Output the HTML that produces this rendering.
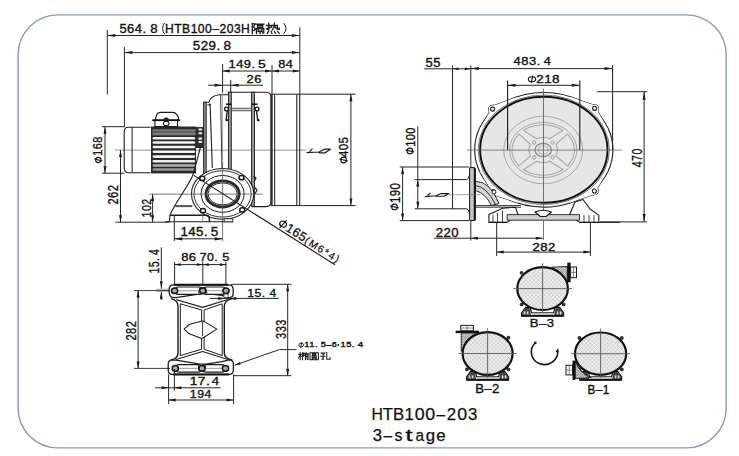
<!DOCTYPE html>
<html><head><meta charset="utf-8"><style>
html,body{margin:0;padding:0;background:#fff;overflow:hidden;}
svg{display:block;}
</style></head><body>
<svg width="739" height="456" viewBox="0 0 739 456">
<rect width="739" height="456" fill="#fff"/>
<rect x="18.1" y="14.85" width="708.1" height="433.05" rx="40" ry="40" fill="none" stroke="#8399c4" stroke-width="1.4"/>
<line x1="107.30" y1="30.00" x2="107.30" y2="94.50" stroke="#262626" stroke-width="1.0"/>
<line x1="299.80" y1="27.50" x2="299.80" y2="94.20" stroke="#262626" stroke-width="1.0"/>
<line x1="107.30" y1="35.50" x2="299.80" y2="35.50" stroke="#262626" stroke-width="1.0"/>
<path d="M107.30,35.50 L115.30,34.00 L115.30,37.00 Z" fill="#1a1a1a"/>
<path d="M299.80,35.50 L291.80,37.00 L291.80,34.00 Z" fill="#1a1a1a"/>
<text transform="translate(120.00,33.00) scale(1.061,1)" x="-0.49" y="0" font-size="12.18" font-family="'Liberation Sans',sans-serif" font-weight="normal" letter-spacing="0.424" fill="#111" stroke="#111" stroke-width="0.35" xml:space="preserve">564.</text>
<text transform="translate(150.80,33.00) scale(1.085,1)" x="-0.53" y="0" font-size="12.18" font-family="'Liberation Sans',sans-serif" font-weight="normal" letter-spacing="0.000" fill="#111" stroke="#111" stroke-width="0.35" xml:space="preserve">8</text>
<path d="M164.6,23.0 Q160.6,28.5 164.6,34.0" fill="none" stroke="#111" stroke-width="1.0" stroke-linejoin="round" />
<text transform="translate(166.00,33.00) scale(0.999,1)" x="-1.00" y="0" font-size="12.18" font-family="'Liberation Sans',sans-serif" font-weight="normal" letter-spacing="0.450" fill="#111" stroke="#111" stroke-width="0.35" xml:space="preserve">HTB100–203H</text>
<path d="M252.30,23.51 L252.30,33.60 M252.30,23.82 L255.16,23.82 L253.60,26.84 L255.42,28.92 L254.12,30.48 L253.08,30.27 M256.20,24.14 L264.00,24.14 M257.50,25.49 L262.70,25.49 L262.70,27.46 L257.50,27.46 L257.50,25.49 M256.46,33.60 L256.46,28.71 L263.74,28.71 L263.74,33.18 L262.70,33.18 M258.28,29.86 L259.32,31.10 M261.92,29.86 L260.88,31.10 M258.02,31.52 L262.18,31.52 M260.10,31.52 L260.10,33.60" fill="none" stroke="#1a1a1a" stroke-width="1.3" stroke-linecap="square" stroke-linejoin="miter"/>
<path d="M266.41,25.49 L271.48,25.49 M268.74,23.20 L268.74,29.96 L267.78,29.65 M266.41,28.71 L271.48,27.15 M271.89,25.49 L277.37,25.49 L277.37,29.23 L279.43,29.23 L279.43,28.19 M274.49,23.20 L274.22,26.32 L272.30,30.06 M275.04,27.15 L276.41,28.40 M267.37,33.39 L268.47,31.42 M271.21,31.42 L271.89,33.39 M274.49,31.42 L275.32,33.39 M277.64,31.42 L279.15,33.39" fill="none" stroke="#1a1a1a" stroke-width="1.3" stroke-linecap="square" stroke-linejoin="miter"/>
<path d="M283.6,23.2 Q288.6,28.5 283.6,33.8" fill="none" stroke="#111" stroke-width="1.0" stroke-linejoin="round" />
<line x1="124.40" y1="47.00" x2="124.40" y2="127.20" stroke="#262626" stroke-width="1.0"/>
<line x1="124.40" y1="52.60" x2="299.80" y2="52.60" stroke="#262626" stroke-width="1.0"/>
<path d="M124.40,52.60 L132.40,51.10 L132.40,54.10 Z" fill="#1a1a1a"/>
<path d="M299.80,52.60 L291.80,54.10 L291.80,51.10 Z" fill="#1a1a1a"/>
<text transform="translate(193.30,49.90) scale(1.048,1)" x="-0.51" y="0" font-size="12.75" font-family="'Liberation Sans',sans-serif" font-weight="normal" letter-spacing="0.429" fill="#111" stroke="#111" stroke-width="0.35" xml:space="preserve">529.</text>
<text transform="translate(224.10,49.90) scale(1.070,1)" x="-0.55" y="0" font-size="12.75" font-family="'Liberation Sans',sans-serif" font-weight="normal" letter-spacing="0.000" fill="#111" stroke="#111" stroke-width="0.35" xml:space="preserve">8</text>
<line x1="222.60" y1="64.00" x2="222.60" y2="92.50" stroke="#262626" stroke-width="1.0"/>
<line x1="272.00" y1="65.00" x2="272.00" y2="94.20" stroke="#262626" stroke-width="1.0"/>
<line x1="222.60" y1="71.00" x2="299.80" y2="71.00" stroke="#262626" stroke-width="1.0"/>
<path d="M222.60,71.00 L229.60,69.50 L229.60,72.50 Z" fill="#1a1a1a"/>
<path d="M272.00,71.00 L265.00,72.50 L265.00,69.50 Z" fill="#1a1a1a"/>
<path d="M272.00,71.00 L279.00,69.50 L279.00,72.50 Z" fill="#1a1a1a"/>
<path d="M299.80,71.00 L292.80,72.50 L292.80,69.50 Z" fill="#1a1a1a"/>
<text transform="translate(229.60,68.20) scale(1.185,1)" x="-0.83" y="0" font-size="10.89" font-family="'Liberation Sans',sans-serif" font-weight="normal" letter-spacing="0.380" fill="#111" stroke="#111" stroke-width="0.35" xml:space="preserve">149.</text>
<text transform="translate(258.50,68.20) scale(1.278,1)" x="-0.44" y="0" font-size="10.89" font-family="'Liberation Sans',sans-serif" font-weight="normal" letter-spacing="0.000" fill="#111" stroke="#111" stroke-width="0.35" xml:space="preserve">5</text>
<text transform="translate(278.80,68.20) scale(1.171,1)" x="-0.47" y="0" font-size="10.89" font-family="'Liberation Sans',sans-serif" font-weight="normal" letter-spacing="0.384" fill="#111" stroke="#111" stroke-width="0.35" xml:space="preserve">84</text>
<line x1="208.10" y1="85.20" x2="263.00" y2="85.20" stroke="#262626" stroke-width="1.0"/>
<path d="M222.60,85.20 L214.60,86.70 L214.60,83.70 Z" fill="#1a1a1a"/>
<path d="M230.70,85.20 L238.70,83.70 L238.70,86.70 Z" fill="#1a1a1a"/>
<line x1="230.70" y1="80.00" x2="230.70" y2="92.50" stroke="#262626" stroke-width="1.0"/>
<text transform="translate(247.20,83.00) scale(1.141,1)" x="-0.57" y="0" font-size="11.32" font-family="'Liberation Sans',sans-serif" font-weight="normal" letter-spacing="0.394" fill="#111" stroke="#111" stroke-width="0.35" xml:space="preserve">26</text>
<line x1="115.00" y1="150.10" x2="306.00" y2="150.10" stroke="#7a7a7a" stroke-width="0.8"/>
<path d="M150.5,127.2 L128.2,127.2 Q124.2,127.2 124.2,132.2 L124.2,167.6 Q124.2,172.7 128.2,172.7 L150.5,172.7" fill="none" stroke="#1c1c1c" stroke-width="1.1" stroke-linejoin="round" />
<line x1="132.10" y1="127.40" x2="132.10" y2="172.50" stroke="#1c1c1c" stroke-width="1.0"/>
<rect x="151" y="126.5" width="45" height="46.9" fill="#2a2a2a"/>
<rect x="152.5" y="129.3" width="43" height="6" fill="#7a7a7a"/>
<rect x="152.5" y="131.5" width="43" height="0.9" fill="#3a3a3a"/>
<rect x="152.6" y="136.90" width="42.6" height="2.6" rx="1.3" fill="#f4f4f4"/>
<rect x="152.6" y="141.20" width="42.6" height="2.6" rx="1.3" fill="#f4f4f4"/>
<rect x="152.6" y="145.70" width="42.6" height="2.6" rx="1.3" fill="#f4f4f4"/>
<rect x="152.6" y="150.50" width="42.6" height="2.6" rx="1.3" fill="#f4f4f4"/>
<rect x="152.6" y="155.30" width="42.6" height="2.6" rx="1.3" fill="#f4f4f4"/>
<rect x="152.6" y="160.00" width="42.6" height="2.6" rx="1.3" fill="#eeeeee"/>
<rect x="152.6" y="164.20" width="42.6" height="2.6" rx="1.3" fill="#b0b0b0"/>
<rect x="152.6" y="168.20" width="42.6" height="2.6" rx="1.3" fill="#9a9a9a"/>
<path d="M155,120.2 L156.8,114.6 Q157.8,112.3 160.2,112.3 L172.8,112.3 Q175.2,112.3 176.4,114.2 L178.4,117 L178.4,120.2" fill="#fff" stroke="#1c1c1c" stroke-width="1.2" stroke-linejoin="round" />
<rect x="154.9" y="120.2" width="22.7" height="6.4" fill="#fff" stroke="#1a1a1a" stroke-width="1.1"/>
<line x1="152.20" y1="120.20" x2="180.10" y2="120.20" stroke="#111" stroke-width="1.8"/>
<path d="M163.4,120.2 A2.8,2.8 0 0 1 169,120.2 Z" fill="#222"/>
<path d="M164.4,121.4 L168,121.4 L169.2,123.4 L168,125.6 L164.4,125.6 L163.2,123.4 Z" fill="#fff" stroke="#1a1a1a" stroke-width="1.1"/>
<rect x="196" y="127" width="8" height="21" fill="#2e2e2e"/>
<rect x="198.4" y="128.4" width="3.8" height="2.1" rx="0.8" fill="#eee"/>
<rect x="198.4" y="132.2" width="3.8" height="2.1" rx="0.8" fill="#eee"/>
<rect x="198.4" y="137.6" width="3.8" height="2.1" rx="0.8" fill="#eee"/>
<rect x="198.4" y="141.0" width="3.8" height="2.1" rx="0.8" fill="#eee"/>
<path d="M203.6,102.2 L209,102.2 Q210.5,96 219.3,94.8 L228.5,94.8 L228.5,92.2 L266,92.2 Q271.1,92.2 271.1,98 L271.1,201.5 Q271.1,206.6 266,206.6 L252,206.6" fill="none" stroke="#1c1c1c" stroke-width="1.1" stroke-linejoin="round" />
<rect x="203.6" y="102.2" width="2.6" height="74" fill="#8a8a8a" stroke="#1a1a1a" stroke-width="0.9"/>
<line x1="210.10" y1="103.50" x2="212.30" y2="168.00" stroke="#1c1c1c" stroke-width="1.1"/>
<line x1="220.60" y1="95.00" x2="222.00" y2="172.00" stroke="#1c1c1c" stroke-width="0.9"/>
<line x1="222.60" y1="92.50" x2="222.60" y2="160.00" stroke="#888" stroke-width="0.7"/>
<path d="M207.4,104.9 L211,104.9" fill="none" stroke="#1c1c1c" stroke-width="1.1" stroke-linejoin="round" />
<rect x="228.5" y="92.2" width="2.8" height="114.4" fill="#9a9a9a" stroke="#1a1a1a" stroke-width="0.9"/>
<rect x="251.6" y="92.2" width="2.8" height="114.4" fill="#9a9a9a" stroke="#1a1a1a" stroke-width="0.9"/>
<line x1="225.90" y1="104.20" x2="231.20" y2="104.20" stroke="#111" stroke-width="1.5"/>
<circle cx="226.5" cy="109.0" r="1.9" fill="#fff" stroke="#111" stroke-width="1.3"/>
<line x1="227.20" y1="111.20" x2="226.20" y2="119.60" stroke="#111" stroke-width="1.3"/>
<ellipse cx="226.8" cy="120.2" rx="1.4" ry="1.1" fill="#111"/>
<line x1="251.60" y1="104.20" x2="257.60" y2="104.20" stroke="#111" stroke-width="1.5"/>
<circle cx="257.0" cy="109.0" r="1.9" fill="#fff" stroke="#111" stroke-width="1.3"/>
<line x1="256.60" y1="111.20" x2="257.60" y2="119.60" stroke="#111" stroke-width="1.3"/>
<ellipse cx="258.2" cy="120.2" rx="1.4" ry="1.1" fill="#111"/>
<rect x="231.3" y="108.2" width="20.3" height="2.6" fill="#d8d8d8" stroke="#333" stroke-width="0.8"/>
<line x1="271.10" y1="94.20" x2="355.50" y2="94.20" stroke="#1c1c1c" stroke-width="1.0"/>
<line x1="271.10" y1="205.60" x2="355.50" y2="205.60" stroke="#1c1c1c" stroke-width="1.0"/>
<rect x="270.4" y="94.2" width="2.3" height="111.4" fill="#333"/>
<line x1="274.70" y1="94.20" x2="274.70" y2="205.60" stroke="#1c1c1c" stroke-width="1.0"/>
<line x1="296.80" y1="94.20" x2="296.80" y2="205.60" stroke="#1c1c1c" stroke-width="1.1"/>
<line x1="299.70" y1="94.20" x2="299.70" y2="205.60" stroke="#1c1c1c" stroke-width="1.1"/>
<line x1="350.90" y1="94.20" x2="350.90" y2="205.60" stroke="#262626" stroke-width="1.0"/>
<path d="M350.90,94.20 L352.40,101.20 L349.40,101.20 Z" fill="#1a1a1a"/>
<path d="M350.90,205.60 L349.40,198.60 L352.40,198.60 Z" fill="#1a1a1a"/>
<text transform="translate(348.20,156.80) rotate(-90) scale(0.871,1)" x="-0.30" y="0" font-size="13.18" font-family="'Liberation Sans',sans-serif" font-weight="normal" letter-spacing="0.517" fill="#111" stroke="#111" stroke-width="0.35" xml:space="preserve">405</text>
<ellipse cx="343.60" cy="160.00" rx="2.77" ry="2.90" fill="none" stroke="#111" stroke-width="1.1"/>
<line x1="339.40" y1="158.99" x2="347.80" y2="161.01" stroke="#111" stroke-width="1.1"/>
<path d="M306.5,152.6 L319,152 L324.6,149.2 L330.3,149.2 L325.2,152.8 L319,152.8 M309.5,151.6 L312.5,148.6" fill="none" stroke="#1c1c1c" stroke-width="1.2" stroke-linejoin="round" />
<ellipse cx="222.6" cy="193.9" rx="31.1" ry="25.4" fill="#fff" stroke="#1c1c1c" stroke-width="1.1"/>
<ellipse cx="222.6" cy="193.9" rx="28.6" ry="23.2" fill="none" stroke="#1c1c1c" stroke-width="0.9"/>
<ellipse cx="222.6" cy="193.9" rx="21.5" ry="18.4" fill="none" stroke="#1c1c1c" stroke-width="1.0"/>
<ellipse cx="222.6" cy="193.9" rx="16.6" ry="13.1" fill="none" stroke="#2a2a2a" stroke-width="2.8"/>
<ellipse cx="222.6" cy="193.9" rx="14.6" ry="11.0" fill="none" stroke="#1c1c1c" stroke-width="0.9"/>
<ellipse cx="202.3" cy="178.4" rx="2.5" ry="2.1" fill="#fff" stroke="#1a1a1a" stroke-width="1.5"/>
<ellipse cx="241.5" cy="177.7" rx="2.5" ry="2.1" fill="#fff" stroke="#1a1a1a" stroke-width="1.5"/>
<ellipse cx="203" cy="210.7" rx="2.5" ry="2.1" fill="#fff" stroke="#1a1a1a" stroke-width="1.5"/>
<ellipse cx="242.2" cy="209.9" rx="2.5" ry="2.1" fill="#fff" stroke="#1a1a1a" stroke-width="1.5"/>
<path d="M253.5,176 L256,178 L254,182 M254,187 L257,190 L255,194" fill="none" stroke="#1c1c1c" stroke-width="1.1" stroke-linejoin="round" />
<line x1="222.60" y1="162.00" x2="222.60" y2="241.00" stroke="#555" stroke-width="0.8"/>
<line x1="149.00" y1="194.10" x2="262.70" y2="194.10" stroke="#555" stroke-width="0.8"/>
<path d="M200.5,147 C197.5,158 195.5,167 192.5,176 C187,188 175,203 169.9,215.3 L169.4,221.8" fill="none" stroke="#1c1c1c" stroke-width="1.1" stroke-linejoin="round" />
<line x1="165.00" y1="221.80" x2="233.00" y2="221.80" stroke="#1c1c1c" stroke-width="1.1"/>
<path d="M170,215.3 L206,215.3 Q209.4,215.3 209.4,219 L209.4,221.8" fill="none" stroke="#1c1c1c" stroke-width="1.5" stroke-linejoin="round" />
<line x1="173.80" y1="206.10" x2="192.40" y2="206.10" stroke="#555" stroke-width="2.0"/>
<line x1="202.80" y1="215.30" x2="202.80" y2="221.80" stroke="#777" stroke-width="0.8"/>
<rect x="224.2" y="218.8" width="8.6" height="3" fill="#fff" stroke="#222" stroke-width="0.9"/>
<line x1="193.80" y1="175.40" x2="335.00" y2="264.80" stroke="#1c1c1c" stroke-width="1.1"/>
<g transform="translate(277.2,225.6) rotate(31.8)"><text x="9.0" y="0" font-size="12.6" font-family="'Liberation Sans',sans-serif" letter-spacing="0.5" fill="#111" stroke="#111" stroke-width="0.3">165</text><text x="31.5" y="0.4" font-size="10.4" font-family="'Liberation Sans',sans-serif" letter-spacing="1.5" fill="#111" stroke="#111" stroke-width="0.2">(M6*4)</text></g>
<g transform="translate(277.2,225.6) rotate(31.8)"><ellipse cx="4.2" cy="-4.4" rx="3.4" ry="2.9" fill="none" stroke="#111" stroke-width="1.2"/><line x1="5.2" y1="-9.4" x2="3.2" y2="0.6" stroke="#111" stroke-width="1.2"/></g>
<line x1="102.00" y1="126.70" x2="124.20" y2="126.70" stroke="#262626" stroke-width="1.0"/>
<line x1="102.00" y1="173.20" x2="124.20" y2="173.20" stroke="#262626" stroke-width="1.0"/>
<line x1="105.00" y1="126.70" x2="105.00" y2="173.20" stroke="#262626" stroke-width="1.0"/>
<path d="M105.00,126.70 L106.50,133.70 L103.50,133.70 Z" fill="#1a1a1a"/>
<path d="M105.00,173.20 L103.50,166.20 L106.50,166.20 Z" fill="#1a1a1a"/>
<text transform="translate(102.30,154.90) rotate(-90) scale(0.875,1)" x="-0.95" y="0" font-size="12.46" font-family="'Liberation Sans',sans-serif" font-weight="normal" letter-spacing="0.514" fill="#111" stroke="#111" stroke-width="0.35" xml:space="preserve">168</text>
<ellipse cx="98.30" cy="160.00" rx="2.64" ry="2.60" fill="none" stroke="#111" stroke-width="1.1"/>
<line x1="94.30" y1="159.04" x2="102.30" y2="160.96" stroke="#111" stroke-width="1.1"/>
<line x1="115.50" y1="222.20" x2="169.40" y2="222.20" stroke="#262626" stroke-width="1.0"/>
<line x1="120.50" y1="150.10" x2="120.50" y2="222.20" stroke="#262626" stroke-width="1.0"/>
<path d="M120.50,150.10 L122.00,157.10 L119.00,157.10 Z" fill="#1a1a1a"/>
<path d="M120.50,222.20 L119.00,215.20 L122.00,215.20 Z" fill="#1a1a1a"/>
<text transform="translate(118.00,204.00) rotate(-90) scale(0.775,1)" x="-0.72" y="0" font-size="14.33" font-family="'Liberation Sans',sans-serif" font-weight="normal" letter-spacing="0.581" fill="#111" stroke="#111" stroke-width="0.35" xml:space="preserve">262</text>
<line x1="152.60" y1="194.10" x2="152.60" y2="222.20" stroke="#262626" stroke-width="1.0"/>
<path d="M152.60,194.10 L154.10,201.10 L151.10,201.10 Z" fill="#1a1a1a"/>
<path d="M152.60,222.20 L151.10,215.20 L154.10,215.20 Z" fill="#1a1a1a"/>
<text transform="translate(150.50,216.60) rotate(-90) scale(0.777,1)" x="-1.04" y="0" font-size="13.61" font-family="'Liberation Sans',sans-serif" font-weight="normal" letter-spacing="0.579" fill="#111" stroke="#111" stroke-width="0.35" xml:space="preserve">102</text>
<line x1="174.30" y1="216.00" x2="174.30" y2="241.00" stroke="#262626" stroke-width="1.0"/>
<line x1="174.30" y1="238.80" x2="222.60" y2="238.80" stroke="#262626" stroke-width="1.0"/>
<path d="M174.30,238.80 L182.30,237.20 L182.30,240.40 Z" fill="#1a1a1a"/>
<path d="M222.60,238.80 L214.60,240.40 L214.60,237.20 Z" fill="#1a1a1a"/>
<text transform="translate(181.40,235.50) scale(1.071,1)" x="-0.95" y="0" font-size="12.46" font-family="'Liberation Sans',sans-serif" font-weight="normal" letter-spacing="0.420" fill="#111" stroke="#111" stroke-width="0.35" xml:space="preserve">145.</text>
<text transform="translate(211.20,235.50) scale(1.083,1)" x="-0.50" y="0" font-size="12.46" font-family="'Liberation Sans',sans-serif" font-weight="normal" letter-spacing="0.000" fill="#111" stroke="#111" stroke-width="0.35" xml:space="preserve">5</text>
<line x1="161.30" y1="247.40" x2="161.30" y2="300.00" stroke="#262626" stroke-width="1.0"/>
<path d="M161.30,287.80 L159.80,281.30 L162.80,281.30 Z" fill="#1a1a1a"/>
<path d="M161.30,292.20 L162.80,298.70 L159.80,298.70 Z" fill="#1a1a1a"/>
<rect x="156" y="288.6" width="13.5" height="3.3" fill="#bdbdbd"/>
<text transform="translate(158.70,272.70) rotate(-90) scale(0.761,1)" x="-1.05" y="0" font-size="13.75" font-family="'Liberation Sans',sans-serif" font-weight="normal" letter-spacing="0.591" fill="#111" stroke="#111" stroke-width="0.35" xml:space="preserve">15.</text>
<text transform="translate(158.70,254.80) rotate(-90) scale(0.750,1)" x="-0.32" y="0" font-size="13.75" font-family="'Liberation Sans',sans-serif" font-weight="normal" letter-spacing="0.000" fill="#111" stroke="#111" stroke-width="0.35" xml:space="preserve">4</text>
<line x1="174.60" y1="262.00" x2="174.60" y2="291.00" stroke="#262626" stroke-width="1.0"/>
<line x1="202.80" y1="262.00" x2="202.80" y2="291.00" stroke="#262626" stroke-width="1.0"/>
<line x1="225.90" y1="262.00" x2="225.90" y2="291.00" stroke="#262626" stroke-width="1.0"/>
<line x1="174.00" y1="264.60" x2="226.50" y2="264.60" stroke="#262626" stroke-width="1.0"/>
<path d="M174.60,264.60 L180.60,263.20 L180.60,266.00 Z" fill="#1a1a1a"/>
<path d="M202.80,264.60 L196.80,266.00 L196.80,263.20 Z" fill="#1a1a1a"/>
<path d="M202.80,264.60 L208.80,263.20 L208.80,266.00 Z" fill="#1a1a1a"/>
<path d="M225.90,264.60 L219.90,266.00 L219.90,263.20 Z" fill="#1a1a1a"/>
<text transform="translate(181.70,261.40) scale(1.181,1)" x="-0.48" y="0" font-size="11.03" font-family="'Liberation Sans',sans-serif" font-weight="normal" letter-spacing="0.381" fill="#111" stroke="#111" stroke-width="0.35" xml:space="preserve">86</text>
<text transform="translate(200.40,261.40) scale(1.112,1)" x="-0.57" y="0" font-size="11.03" font-family="'Liberation Sans',sans-serif" font-weight="normal" letter-spacing="0.405" fill="#111" stroke="#111" stroke-width="0.35" xml:space="preserve">70.</text>
<text transform="translate(222.70,261.40) scale(1.166,1)" x="-0.44" y="0" font-size="11.03" font-family="'Liberation Sans',sans-serif" font-weight="normal" letter-spacing="0.000" fill="#111" stroke="#111" stroke-width="0.35" xml:space="preserve">5</text>
<path d="M173.5,284.8 L228.5,284.8 Q233.2,284.8 233.2,289.5 L233.2,293.5 Q233.2,297.6 229,297.8 L221.7,295.3 L206.5,293.4 L200,293.8 L176,297.6 Q169.2,298.5 169.2,292.5 L169.2,289.5 Q169.2,284.8 173.5,284.8 Z" fill="#fff" stroke="#1c1c1c" stroke-width="1.3" stroke-linejoin="round" />
<line x1="174.00" y1="284.80" x2="228.00" y2="284.80" stroke="#111" stroke-width="2.0"/>
<rect x="174.6" y="287.0" width="28.1" height="7.4" rx="3.6" fill="#fff" stroke="#1a1a1a" stroke-width="1.1"/>
<rect x="202.7" y="287.0" width="23.3" height="7.4" rx="3.6" fill="#fff" stroke="#1a1a1a" stroke-width="1.1"/>
<line x1="178.00" y1="290.70" x2="199.00" y2="290.70" stroke="#aaa" stroke-width="1.2"/>
<line x1="206.00" y1="290.70" x2="222.50" y2="290.70" stroke="#aaa" stroke-width="1.2"/>
<ellipse cx="174.6" cy="290.7" rx="3.1" ry="2.8" fill="#aaa" stroke="#111" stroke-width="1.5"/>
<ellipse cx="202.7" cy="290.7" rx="3.1" ry="2.8" fill="#aaa" stroke="#111" stroke-width="1.5"/>
<ellipse cx="226.0" cy="290.7" rx="3.1" ry="2.8" fill="#aaa" stroke="#111" stroke-width="1.5"/>
<path d="M198.5,293.6 L200,287.5 L205.4,287.5 L207,293.6" fill="none" stroke="#1c1c1c" stroke-width="1.0" stroke-linejoin="round" />
<rect x="224" y="294" width="4" height="3.5" fill="#fff" stroke="#333" stroke-width="0.8"/>
<path d="M172.2,359.8 L176,360.2 L200,364.2 L206,364.2 L222,361.6 L229,359.8 Q233.4,359.8 233.4,364 L233.4,369.8 Q233.4,374.4 229,374.4 L172.2,374.4 Q168.2,374.4 168.2,369.8 L168.2,364 Q168.2,359.8 172.2,359.8 Z" fill="#fff" stroke="#1c1c1c" stroke-width="1.3" stroke-linejoin="round" />
<line x1="173.00" y1="374.40" x2="229.00" y2="374.40" stroke="#111" stroke-width="2.0"/>
<rect x="175.3" y="364.6" width="26.6" height="7.6" rx="3.7" fill="#fff" stroke="#1a1a1a" stroke-width="1.2"/>
<rect x="201.9" y="364.6" width="23.6" height="7.6" rx="3.7" fill="#fff" stroke="#1a1a1a" stroke-width="1.2"/>
<line x1="179.00" y1="368.40" x2="198.00" y2="368.40" stroke="#aaa" stroke-width="1.2"/>
<line x1="205.50" y1="368.40" x2="222.00" y2="368.40" stroke="#aaa" stroke-width="1.2"/>
<ellipse cx="175.3" cy="368.4" rx="3.1" ry="2.8" fill="#aaa" stroke="#111" stroke-width="1.5"/>
<ellipse cx="201.9" cy="368.4" rx="3.1" ry="2.8" fill="#aaa" stroke="#111" stroke-width="1.5"/>
<ellipse cx="225.5" cy="368.4" rx="3.1" ry="2.8" fill="#aaa" stroke="#111" stroke-width="1.5"/>
<path d="M198,364.5 L199.5,371 L204.5,371 L206,364.5" fill="none" stroke="#1c1c1c" stroke-width="1.0" stroke-linejoin="round" />
<path d="M171.1,298.6 Q178,300.5 178,306 L178,353 Q178,358.5 171.1,360.0" fill="none" stroke="#1c1c1c" stroke-width="1.4" stroke-linejoin="round" />
<path d="M232.3,298.6 Q224.3,300.5 224.3,306 L224.3,353 Q224.3,358.5 232.3,360.0" fill="none" stroke="#1c1c1c" stroke-width="1.4" stroke-linejoin="round" />
<path d="M176,299.5 L202.6,307.4 L228,299.5" fill="none" stroke="#1c1c1c" stroke-width="1.1" stroke-linejoin="round" />
<path d="M176,359.5 L202.6,351.5 L228,359.5" fill="none" stroke="#1c1c1c" stroke-width="1.1" stroke-linejoin="round" />
<path d="M180.3,303.8 L180.3,355.6 M222.2,303.8 L222.2,355.6" fill="none" stroke="#1c1c1c" stroke-width="1.0" stroke-linejoin="round" />
<path d="M180.3,303.8 L201.6,310 L201.6,349.2 L180.3,355.6" fill="none" stroke="#1c1c1c" stroke-width="1.0" stroke-linejoin="round" />
<path d="M222.2,303.8 L204.1,310 L204.1,349.2 L222.2,355.6" fill="none" stroke="#1c1c1c" stroke-width="1.0" stroke-linejoin="round" />
<path d="M184.1,329.1 L189.2,324.5 L201.8,321 L204,321.4 L216.8,329.1 L204,337.2 L201.8,338.4 L189.2,333.8 Z" fill="#fff" stroke="#1c1c1c" stroke-width="1.1" stroke-linejoin="round" />
<line x1="202.60" y1="322.00" x2="202.60" y2="336.00" stroke="#1c1c1c" stroke-width="0.9"/>
<line x1="134.00" y1="290.60" x2="170.00" y2="290.60" stroke="#262626" stroke-width="0.9"/>
<line x1="134.00" y1="368.40" x2="170.00" y2="368.40" stroke="#262626" stroke-width="0.9"/>
<line x1="138.10" y1="290.60" x2="138.10" y2="368.40" stroke="#262626" stroke-width="1.0"/>
<path d="M138.10,290.60 L139.60,297.60 L136.60,297.60 Z" fill="#1a1a1a"/>
<path d="M138.10,368.40 L136.60,361.40 L139.60,361.40 Z" fill="#1a1a1a"/>
<text transform="translate(135.70,340.00) rotate(-90) scale(0.759,1)" x="-0.73" y="0" font-size="14.61" font-family="'Liberation Sans',sans-serif" font-weight="normal" letter-spacing="0.593" fill="#111" stroke="#111" stroke-width="0.35" xml:space="preserve">282</text>
<line x1="209.90" y1="298.40" x2="278.60" y2="298.40" stroke="#262626" stroke-width="1.0"/>
<path d="M225.20,298.40 L218.20,299.90 L218.20,296.90 Z" fill="#1a1a1a"/>
<path d="M229.40,298.40 L236.40,296.90 L236.40,299.90 Z" fill="#1a1a1a"/>
<text transform="translate(248.10,296.50) scale(1.057,1)" x="-0.88" y="0" font-size="11.60" font-family="'Liberation Sans',sans-serif" font-weight="normal" letter-spacing="0.426" fill="#111" stroke="#111" stroke-width="0.35" xml:space="preserve">15.</text>
<text transform="translate(269.80,296.50) scale(1.043,1)" x="-0.27" y="0" font-size="11.60" font-family="'Liberation Sans',sans-serif" font-weight="normal" letter-spacing="0.000" fill="#111" stroke="#111" stroke-width="0.35" xml:space="preserve">4</text>
<line x1="231.00" y1="284.30" x2="291.30" y2="284.30" stroke="#262626" stroke-width="1.0"/>
<line x1="233.40" y1="375.70" x2="291.30" y2="375.70" stroke="#262626" stroke-width="1.0"/>
<line x1="287.70" y1="284.30" x2="287.70" y2="375.70" stroke="#262626" stroke-width="1.0"/>
<path d="M287.70,284.30 L289.20,291.30 L286.20,291.30 Z" fill="#1a1a1a"/>
<path d="M287.70,375.70 L286.20,368.70 L289.20,368.70 Z" fill="#1a1a1a"/>
<text transform="translate(285.80,338.50) rotate(-90) scale(0.743,1)" x="-0.56" y="0" font-size="14.76" font-family="'Liberation Sans',sans-serif" font-weight="normal" letter-spacing="0.605" fill="#111" stroke="#111" stroke-width="0.35" xml:space="preserve">333</text>
<path d="M234.6,365.2 L279.3,349.6 L296.5,349.6" fill="none" stroke="#262626" stroke-width="1.0" stroke-linejoin="round" />
<path d="M234.60,365.20 L239.80,361.90 L240.73,364.54 Z" fill="#1a1a1a"/>
<ellipse cx="301.20" cy="345.00" rx="2.30" ry="1.85" fill="none" stroke="#111" stroke-width="0.9"/>
<line x1="301.87" y1="342.20" x2="300.53" y2="347.80" stroke="#111" stroke-width="0.9"/>
<text transform="translate(304.90,347.30) scale(1.284,1)" x="-0.57" y="0" font-size="7.45" font-family="'Liberation Sans',sans-serif" font-weight="normal" letter-spacing="0.350" fill="#111" stroke="#111" stroke-width="0.35" xml:space="preserve">11.</text>
<text transform="translate(321.20,347.30) scale(1.220,1)" x="-0.30" y="0" font-size="7.45" font-family="'Liberation Sans',sans-serif" font-weight="normal" letter-spacing="0.369" fill="#111" stroke="#111" stroke-width="0.35" xml:space="preserve">5–6</text>
<circle cx="338.4" cy="345" r="0.9" fill="#111"/>
<text transform="translate(341.30,347.30) scale(1.252,1)" x="-0.57" y="0" font-size="7.45" font-family="'Liberation Sans',sans-serif" font-weight="normal" letter-spacing="0.360" fill="#111" stroke="#111" stroke-width="0.35" xml:space="preserve">15.</text>
<text transform="translate(357.80,347.30) scale(1.400,1)" x="-0.17" y="0" font-size="7.45" font-family="'Liberation Sans',sans-serif" font-weight="normal" letter-spacing="0.000" fill="#111" stroke="#111" stroke-width="0.35" xml:space="preserve">4</text>
<path d="M298.60,354.30 L301.74,354.30 M300.17,352.40 L300.17,359.70 M300.17,354.59 L298.70,357.88 M300.27,355.03 L301.54,356.49 M302.52,352.76 L302.52,359.70 M302.52,352.91 L303.89,352.91 L303.21,354.59 L303.89,355.76 L303.11,356.49 M304.28,353.71 L308.40,353.71 M306.24,352.62 L304.87,355.32 M305.46,354.88 L308.01,354.88 L308.01,359.41 L307.42,359.41 M305.46,354.88 L305.46,359.70 M305.46,356.49 L308.01,356.49 M305.46,357.95 L308.01,357.95" fill="none" stroke="#1a1a1a" stroke-width="1.05" stroke-linecap="square" stroke-linejoin="miter"/>
<path d="M309.98,352.84 L318.42,352.84 L318.42,359.70 L309.98,359.70 L309.98,352.84 M312.57,353.86 L315.83,353.86 L315.83,355.17 L312.57,355.17 L312.57,353.86 M312.09,356.05 L316.31,356.05 L316.31,357.80 L312.09,357.80 L312.09,356.05 M314.20,356.05 L314.20,357.95 L312.28,358.97 M314.78,358.09 L316.50,358.97" fill="none" stroke="#1a1a1a" stroke-width="1.05" stroke-linecap="square" stroke-linejoin="miter"/>
<path d="M321.09,353.13 L324.62,353.13 L323.15,354.59 M323.15,354.59 L323.15,359.41 L322.07,359.12 M320.70,356.20 L325.01,356.20 M326.77,352.55 L326.77,359.19 L330.10,359.19 L330.10,357.80" fill="none" stroke="#1a1a1a" stroke-width="1.05" stroke-linecap="square" stroke-linejoin="miter"/>
<line x1="174.40" y1="369.00" x2="174.40" y2="390.50" stroke="#262626" stroke-width="1.0"/>
<line x1="168.60" y1="374.40" x2="168.60" y2="404.00" stroke="#262626" stroke-width="1.0"/>
<line x1="233.60" y1="374.40" x2="233.60" y2="404.00" stroke="#262626" stroke-width="1.0"/>
<line x1="154.90" y1="387.80" x2="220.60" y2="387.80" stroke="#262626" stroke-width="1.0"/>
<path d="M168.60,387.80 L161.60,389.30 L161.60,386.30 Z" fill="#1a1a1a"/>
<path d="M174.40,387.80 L181.40,386.30 L181.40,389.30 Z" fill="#1a1a1a"/>
<text transform="translate(190.80,384.80) scale(1.214,1)" x="-0.86" y="0" font-size="11.32" font-family="'Liberation Sans',sans-serif" font-weight="normal" letter-spacing="0.371" fill="#111" stroke="#111" stroke-width="0.35" xml:space="preserve">17.</text>
<text transform="translate(212.10,384.80) scale(1.175,1)" x="-0.26" y="0" font-size="11.32" font-family="'Liberation Sans',sans-serif" font-weight="normal" letter-spacing="0.000" fill="#111" stroke="#111" stroke-width="0.35" xml:space="preserve">4</text>
<line x1="168.60" y1="400.00" x2="233.60" y2="400.00" stroke="#262626" stroke-width="1.0"/>
<path d="M168.60,400.00 L175.60,398.50 L175.60,401.50 Z" fill="#1a1a1a"/>
<path d="M233.60,400.00 L226.60,401.50 L226.60,398.50 Z" fill="#1a1a1a"/>
<text transform="translate(190.80,397.60) scale(1.085,1)" x="-0.86" y="0" font-size="11.32" font-family="'Liberation Sans',sans-serif" font-weight="normal" letter-spacing="0.415" fill="#111" stroke="#111" stroke-width="0.35" xml:space="preserve">194</text>
<line x1="452.50" y1="65.40" x2="452.50" y2="208.80" stroke="#262626" stroke-width="1.0"/>
<line x1="470.80" y1="65.40" x2="470.80" y2="240.60" stroke="#262626" stroke-width="1.0"/>
<line x1="424.10" y1="68.80" x2="470.80" y2="68.80" stroke="#262626" stroke-width="1.0"/>
<path d="M452.50,68.80 L458.50,67.40 L458.50,70.20 Z" fill="#1a1a1a"/>
<path d="M470.80,68.80 L464.80,70.20 L464.80,67.40 Z" fill="#1a1a1a"/>
<text transform="translate(426.10,66.60) scale(1.064,1)" x="-0.49" y="0" font-size="12.18" font-family="'Liberation Sans',sans-serif" font-weight="normal" letter-spacing="0.423" fill="#111" stroke="#111" stroke-width="0.35" xml:space="preserve">55</text>
<line x1="470.80" y1="68.60" x2="612.60" y2="68.60" stroke="#262626" stroke-width="1.0"/>
<path d="M470.80,68.60 L478.80,67.10 L478.80,70.10 Z" fill="#1a1a1a"/>
<path d="M612.60,68.60 L604.60,70.10 L604.60,67.10 Z" fill="#1a1a1a"/>
<text transform="translate(513.90,65.40) scale(1.122,1)" x="-0.27" y="0" font-size="11.60" font-family="'Liberation Sans',sans-serif" font-weight="normal" letter-spacing="0.401" fill="#111" stroke="#111" stroke-width="0.35" xml:space="preserve">483.</text>
<text transform="translate(544.00,65.40) scale(1.112,1)" x="-0.27" y="0" font-size="11.60" font-family="'Liberation Sans',sans-serif" font-weight="normal" letter-spacing="0.000" fill="#111" stroke="#111" stroke-width="0.35" xml:space="preserve">4</text>
<line x1="507.60" y1="85.30" x2="579.80" y2="85.30" stroke="#262626" stroke-width="1.0"/>
<path d="M507.60,85.30 L515.60,83.80 L515.60,86.80 Z" fill="#1a1a1a"/>
<path d="M579.80,85.30 L571.80,86.80 L571.80,83.80 Z" fill="#1a1a1a"/>
<ellipse cx="532.00" cy="79.30" rx="3.70" ry="2.51" fill="none" stroke="#111" stroke-width="1.1"/>
<line x1="532.91" y1="75.50" x2="531.09" y2="83.10" stroke="#111" stroke-width="1.1"/>
<text transform="translate(536.90,83.20) scale(1.199,1)" x="-0.56" y="0" font-size="11.17" font-family="'Liberation Sans',sans-serif" font-weight="normal" letter-spacing="0.375" fill="#111" stroke="#111" stroke-width="0.35" xml:space="preserve">218</text>
<line x1="597.00" y1="91.70" x2="647.00" y2="91.70" stroke="#262626" stroke-width="1.0"/>
<line x1="600.00" y1="221.90" x2="647.00" y2="221.90" stroke="#262626" stroke-width="1.0"/>
<line x1="644.10" y1="91.70" x2="644.10" y2="221.90" stroke="#262626" stroke-width="1.0"/>
<path d="M644.10,91.70 L645.60,99.70 L642.60,99.70 Z" fill="#1a1a1a"/>
<path d="M644.10,221.90 L642.60,213.90 L645.60,213.90 Z" fill="#1a1a1a"/>
<text transform="translate(641.70,167.00) rotate(-90) scale(0.724,1)" x="-0.34" y="0" font-size="14.61" font-family="'Liberation Sans',sans-serif" font-weight="normal" letter-spacing="0.621" fill="#111" stroke="#111" stroke-width="0.35" xml:space="preserve">470</text>
<path d="M478.78,130.40 L489.35,112.39 Q486.84,104.52 495.07,105.19 L517.68,96.75 Z" fill="#fff" stroke="#222" stroke-width="1.1" stroke-linejoin="round"/>
<path d="M569.12,96.49 L592.08,104.52 Q600.31,103.75 597.89,111.65 L608.52,129.73 Z" fill="#fff" stroke="#222" stroke-width="1.1" stroke-linejoin="round"/>
<path d="M518.91,203.26 L495.74,195.46 Q487.53,196.29 489.88,188.37 L479.24,170.23 Z" fill="#fff" stroke="#222" stroke-width="1.1" stroke-linejoin="round"/>
<path d="M608.53,169.85 L597.69,187.75 Q600.11,195.65 591.88,194.88 L569.15,203.10 Z" fill="#fff" stroke="#222" stroke-width="1.1" stroke-linejoin="round"/>
<ellipse cx="543.8" cy="149.8" rx="69.1" ry="57.3" fill="#fff" stroke="#222" stroke-width="1.1"/>
<path d="M478.78,130.40 L489.35,112.39 Q486.84,104.52 495.07,105.19 L517.68,96.75 Z" fill="#fff" stroke="none" transform="translate(0,0)"/>
<path d="M569.12,96.49 L592.08,104.52 Q600.31,103.75 597.89,111.65 L608.52,129.73 Z" fill="#fff" stroke="none" transform="translate(0,0)"/>
<path d="M518.91,203.26 L495.74,195.46 Q487.53,196.29 489.88,188.37 L479.24,170.23 Z" fill="#fff" stroke="none" transform="translate(0,0)"/>
<path d="M608.53,169.85 L597.69,187.75 Q600.11,195.65 591.88,194.88 L569.15,203.10 Z" fill="#fff" stroke="none" transform="translate(0,0)"/>
<circle cx="492.6" cy="109.1" r="2.0" fill="#fff" stroke="#222" stroke-width="1.1"/>
<circle cx="594.6" cy="108.4" r="2.0" fill="#fff" stroke="#222" stroke-width="1.1"/>
<circle cx="493.2" cy="191.6" r="2.0" fill="#fff" stroke="#222" stroke-width="1.1"/>
<circle cx="594.4" cy="191.0" r="2.0" fill="#fff" stroke="#222" stroke-width="1.1"/>
<ellipse cx="543.8" cy="149.8" rx="65.6" ry="54.8" fill="none" stroke="#666" stroke-width="0.9"/>
<ellipse cx="543.8" cy="149.8" rx="63.7" ry="53.0" fill="#e6e6e6" stroke="#111" stroke-width="1.9"/>
<ellipse cx="543.2" cy="150.0" rx="39.5" ry="33.8" fill="none" stroke="#a8a8a8" stroke-width="1"/>
<ellipse cx="543.2" cy="150.0" rx="33.7" ry="27.6" fill="none" stroke="#a8a8a8" stroke-width="1"/>
<ellipse cx="543.2" cy="150.0" rx="8.2" ry="6.6" fill="none" stroke="#888" stroke-width="1.2"/>
<ellipse cx="543.2" cy="150.0" rx="5.0" ry="4.2" fill="none" stroke="#aaa" stroke-width="0.9"/>
<circle cx="534.2" cy="142.5" r="1.7" fill="none" stroke="#999" stroke-width="0.9"/>
<circle cx="552.6" cy="142.5" r="1.7" fill="none" stroke="#999" stroke-width="0.9"/>
<circle cx="534.2" cy="157.4" r="1.7" fill="none" stroke="#999" stroke-width="0.9"/>
<circle cx="552.6" cy="157.4" r="1.7" fill="none" stroke="#999" stroke-width="0.9"/>
<path d="M567.45,134.14 L569.51,136.46 L571.24,138.95 L572.61,141.59 L573.60,144.33 L574.20,147.15 L574.40,150.00 L574.20,152.85 L573.60,155.67 L572.61,158.41 L571.24,161.05 L569.51,163.54 L567.45,165.86 L555.85,155.72 L556.32,154.82 L556.71,153.89 L557.01,152.94 L557.23,151.97 L557.36,150.99 L557.40,150.00 L557.36,149.01 L557.23,148.03 L557.01,147.06 L556.71,146.11 L556.32,145.18 L555.85,144.28 Z" fill="none" stroke="#a8a8a8" stroke-width="1.1" stroke-linejoin="round"/>
<path d="M562.83,169.58 L559.96,171.25 L556.88,172.65 L553.61,173.75 L550.22,174.55 L546.73,175.04 L543.20,175.20 L539.67,175.04 L536.18,174.55 L532.79,173.75 L529.52,172.65 L526.44,171.25 L523.57,169.58 L536.75,161.23 L537.77,161.64 L538.81,161.98 L539.89,162.25 L540.98,162.44 L542.09,162.56 L543.20,162.60 L544.31,162.56 L545.42,162.44 L546.51,162.25 L547.59,161.98 L548.63,161.64 L549.65,161.23 Z" fill="none" stroke="#a8a8a8" stroke-width="1.1" stroke-linejoin="round"/>
<path d="M518.95,165.86 L516.89,163.54 L515.16,161.05 L513.79,158.41 L512.80,155.67 L512.20,152.85 L512.00,150.00 L512.20,147.15 L512.80,144.33 L513.79,141.59 L515.16,138.95 L516.89,136.46 L518.95,134.14 L530.55,144.28 L530.08,145.18 L529.69,146.11 L529.39,147.06 L529.17,148.03 L529.04,149.01 L529.00,150.00 L529.04,150.99 L529.17,151.97 L529.39,152.94 L529.69,153.89 L530.08,154.82 L530.55,155.72 Z" fill="none" stroke="#a8a8a8" stroke-width="1.1" stroke-linejoin="round"/>
<path d="M523.57,130.42 L526.44,128.75 L529.52,127.35 L532.79,126.25 L536.18,125.45 L539.67,124.96 L543.20,124.80 L546.73,124.96 L550.22,125.45 L553.61,126.25 L556.88,127.35 L559.96,128.75 L562.83,130.42 L549.65,138.77 L548.63,138.36 L547.59,138.02 L546.51,137.75 L545.42,137.56 L544.31,137.44 L543.20,137.40 L542.09,137.44 L540.98,137.56 L539.89,137.75 L538.81,138.02 L537.77,138.36 L536.75,138.77 Z" fill="none" stroke="#a8a8a8" stroke-width="1.1" stroke-linejoin="round"/>
<line x1="543.50" y1="88.60" x2="543.50" y2="240.00" stroke="#555" stroke-width="0.8"/>
<line x1="467.00" y1="150.10" x2="622.00" y2="150.10" stroke="#666" stroke-width="0.8"/>
<line x1="507.60" y1="80.50" x2="507.60" y2="149.80" stroke="#1a1a1a" stroke-width="1.1"/>
<line x1="579.80" y1="80.50" x2="579.80" y2="149.80" stroke="#1a1a1a" stroke-width="1.1"/>
<line x1="612.60" y1="65.00" x2="612.60" y2="150.00" stroke="#1a1a1a" stroke-width="1.0"/>
<clipPath id="fd1"><path d="M475.5,181.5 Q490,181 499,203.5 L491.5,205.5 Q485,193 475.5,190.5 Z"/></clipPath>
<path d="M475.5,181.5 Q490,181 499,203.5 L491.5,205.5 Q485,193 475.5,190.5 Z" fill="#e2e2e2" stroke="#1a1a1a" stroke-width="1"/>
<g clip-path="url(#fd1)" stroke="#aaa" stroke-width="0.6"><line x1="441.2" y1="172" x2="475.2" y2="206"/><line x1="443.6" y1="172" x2="477.6" y2="206"/><line x1="446.0" y1="172" x2="480.0" y2="206"/><line x1="448.4" y1="172" x2="482.4" y2="206"/><line x1="450.8" y1="172" x2="484.8" y2="206"/><line x1="453.2" y1="172" x2="487.2" y2="206"/><line x1="455.6" y1="172" x2="489.6" y2="206"/><line x1="458.0" y1="172" x2="492.0" y2="206"/><line x1="460.4" y1="172" x2="494.4" y2="206"/><line x1="462.8" y1="172" x2="496.8" y2="206"/><line x1="465.2" y1="172" x2="499.2" y2="206"/><line x1="467.6" y1="172" x2="501.6" y2="206"/><line x1="470.0" y1="172" x2="504.0" y2="206"/><line x1="472.4" y1="172" x2="506.4" y2="206"/><line x1="474.8" y1="172" x2="508.8" y2="206"/><line x1="477.2" y1="172" x2="511.2" y2="206"/><line x1="479.6" y1="172" x2="513.6" y2="206"/><line x1="482.0" y1="172" x2="516.0" y2="206"/><line x1="484.4" y1="172" x2="518.4" y2="206"/><line x1="486.8" y1="172" x2="520.8" y2="206"/><line x1="489.2" y1="172" x2="523.2" y2="206"/><line x1="491.6" y1="172" x2="525.6" y2="206"/><line x1="494.0" y1="172" x2="528.0" y2="206"/><line x1="496.4" y1="172" x2="530.4" y2="206"/><line x1="498.8" y1="172" x2="532.8" y2="206"/><line x1="501.2" y1="172" x2="535.2" y2="206"/></g>
<path d="M475.5,185.5 Q487,187 495.5,204.5" fill="none" stroke="#222" stroke-width="0.9" stroke-linejoin="round" />
<circle cx="494" cy="192" r="2" fill="#fff" stroke="#222" stroke-width="1"/>
<line x1="474.00" y1="205.60" x2="521.00" y2="205.60" stroke="#1c1c1c" stroke-width="0.9"/>
<line x1="474.00" y1="207.20" x2="521.00" y2="207.20" stroke="#1c1c1c" stroke-width="0.9"/>
<path d="M488.9,222.4 L488.9,214.6 L502.7,208.2 L515.5,207.2 L518,214.6 L507.1,222.4 Z" fill="#fff" stroke="#1c1c1c" stroke-width="1.1" stroke-linejoin="round" />
<line x1="493.00" y1="214.60" x2="493.00" y2="222.40" stroke="#1c1c1c" stroke-width="0.8"/>
<line x1="497.50" y1="212.80" x2="497.50" y2="222.40" stroke="#1c1c1c" stroke-width="0.8"/>
<line x1="502.50" y1="210.50" x2="502.50" y2="222.40" stroke="#1c1c1c" stroke-width="0.8"/>
<path d="M598.8,222.4 L598.8,215.1 L590,209 L583,199.5 L575,202 L569.5,215 L579.5,222.4 Z" fill="#fff" stroke="#1c1c1c" stroke-width="1.1" stroke-linejoin="round" />
<line x1="584.00" y1="215.00" x2="584.00" y2="222.40" stroke="#1c1c1c" stroke-width="0.8"/>
<line x1="589.00" y1="215.00" x2="589.00" y2="222.40" stroke="#1c1c1c" stroke-width="0.8"/>
<line x1="594.00" y1="215.00" x2="594.00" y2="222.40" stroke="#1c1c1c" stroke-width="0.8"/>
<path d="M507.1,214.6 L579.5,214.6 L579.5,220.2 L507.1,220.2 Z" fill="#cfcfcf" stroke="#222" stroke-width="0.9"/>
<path d="M535,212 Q543.2,208.5 551.4,212 L546,216.5 L540.4,216.5 Z" fill="#fff" stroke="#1c1c1c" stroke-width="1.1" stroke-linejoin="round" />
<line x1="488.90" y1="222.40" x2="507.10" y2="222.40" stroke="#1c1c1c" stroke-width="1.2"/>
<line x1="579.50" y1="222.40" x2="620.00" y2="222.40" stroke="#1c1c1c" stroke-width="1.0"/>
<line x1="452.50" y1="179.60" x2="466.50" y2="179.60" stroke="#1c1c1c" stroke-width="1.0"/>
<line x1="452.50" y1="208.80" x2="466.50" y2="208.80" stroke="#1c1c1c" stroke-width="1.0"/>
<path d="M466.5,179.6 Q468.5,179.6 469.6,175 M466.5,208.8 Q468.5,208.8 469.6,213" fill="none" stroke="#1c1c1c" stroke-width="1.0" stroke-linejoin="round" />
<rect x="469.6" y="167.6" width="5.7" height="53.0" rx="1.2" fill="#c4c4c4" stroke="#111" stroke-width="1.0"/>
<line x1="474.60" y1="168.00" x2="474.60" y2="220.40" stroke="#111" stroke-width="1.6"/>
<line x1="399.70" y1="167.00" x2="469.60" y2="167.00" stroke="#262626" stroke-width="1.0"/>
<line x1="399.70" y1="220.60" x2="469.60" y2="220.60" stroke="#262626" stroke-width="1.0"/>
<line x1="402.60" y1="167.00" x2="402.60" y2="220.60" stroke="#262626" stroke-width="1.0"/>
<path d="M402.60,167.00 L404.10,174.00 L401.10,174.00 Z" fill="#1a1a1a"/>
<path d="M402.60,220.60 L401.10,213.60 L404.10,213.60 Z" fill="#1a1a1a"/>
<text transform="translate(399.80,202.20) rotate(-90) scale(0.833,1)" x="-1.05" y="0" font-size="13.75" font-family="'Liberation Sans',sans-serif" font-weight="normal" letter-spacing="0.540" fill="#111" stroke="#111" stroke-width="0.35" xml:space="preserve">190</text>
<ellipse cx="394.50" cy="206.90" rx="2.84" ry="2.80" fill="none" stroke="#111" stroke-width="1.1"/>
<line x1="390.20" y1="205.87" x2="398.80" y2="207.93" stroke="#111" stroke-width="1.1"/>
<line x1="414.60" y1="179.60" x2="452.50" y2="179.60" stroke="#262626" stroke-width="1.0"/>
<line x1="414.60" y1="208.80" x2="452.50" y2="208.80" stroke="#262626" stroke-width="1.0"/>
<line x1="417.80" y1="126.30" x2="417.80" y2="208.80" stroke="#262626" stroke-width="1.0"/>
<path d="M417.80,179.60 L419.30,186.60 L416.30,186.60 Z" fill="#1a1a1a"/>
<path d="M417.80,208.80 L416.30,201.80 L419.30,201.80 Z" fill="#1a1a1a"/>
<text transform="translate(414.60,146.00) rotate(-90) scale(0.822,1)" x="-1.03" y="0" font-size="13.47" font-family="'Liberation Sans',sans-serif" font-weight="normal" letter-spacing="0.547" fill="#111" stroke="#111" stroke-width="0.35" xml:space="preserve">100</text>
<ellipse cx="409.90" cy="150.90" rx="2.84" ry="2.80" fill="none" stroke="#111" stroke-width="1.1"/>
<line x1="405.60" y1="149.87" x2="414.20" y2="151.93" stroke="#111" stroke-width="1.1"/>
<path d="M424.8,196.6 L436,195.8 L441,193.6 L449,193.6 L444,196.2 L436,196.2 M427.5,195.5 L430.5,193" fill="none" stroke="#1c1c1c" stroke-width="1.1" stroke-linejoin="round" />
<line x1="449.00" y1="194.70" x2="480.00" y2="194.70" stroke="#777" stroke-width="0.7"/>
<line x1="434.10" y1="238.20" x2="542.80" y2="238.20" stroke="#262626" stroke-width="1.0"/>
<path d="M470.80,238.20 L477.80,236.70 L477.80,239.70 Z" fill="#1a1a1a"/>
<path d="M542.80,238.20 L535.80,239.70 L535.80,236.70 Z" fill="#1a1a1a"/>
<text transform="translate(436.40,236.50) scale(1.045,1)" x="-0.63" y="0" font-size="12.61" font-family="'Liberation Sans',sans-serif" font-weight="normal" letter-spacing="0.431" fill="#111" stroke="#111" stroke-width="0.35" xml:space="preserve">220</text>
<line x1="496.70" y1="222.40" x2="496.70" y2="256.00" stroke="#262626" stroke-width="1.0"/>
<line x1="590.40" y1="222.40" x2="590.40" y2="256.00" stroke="#262626" stroke-width="1.0"/>
<line x1="496.70" y1="252.10" x2="590.40" y2="252.10" stroke="#262626" stroke-width="1.0"/>
<path d="M496.70,252.10 L503.70,250.60 L503.70,253.60 Z" fill="#1a1a1a"/>
<path d="M590.40,252.10 L583.40,253.60 L583.40,250.60 Z" fill="#1a1a1a"/>
<text transform="translate(533.20,250.60) scale(1.274,1)" x="-0.52" y="0" font-size="10.32" font-family="'Liberation Sans',sans-serif" font-weight="normal" letter-spacing="0.353" fill="#111" stroke="#111" stroke-width="0.35" xml:space="preserve">282</text>
<clipPath id="c1"><ellipse cx="542.6" cy="288.6" rx="24.1" ry="20.2"/></clipPath>
<circle cx="521.6" cy="272.8" r="1.9" fill="#333" stroke="none"/>
<circle cx="521.6" cy="304.4" r="1.9" fill="#333" stroke="none"/>
<circle cx="563.6" cy="272.8" r="1.9" fill="#333" stroke="none"/>
<circle cx="563.6" cy="304.4" r="1.9" fill="#333" stroke="none"/>
<path d="M521.6,315.9 L521.6,312.9 L525.6,307.4 L530.1,307.4 L531.6,312.9 L553.6,312.9 L555.1,307.4 L559.6,307.4 L563.6,312.9 L563.6,315.9 Z" fill="#fff" stroke="#111" stroke-width="1.2" stroke-linejoin="round" />
<path d="M522.1,315.4 L522.1,312.9 L525.6,307.9 L529.6,307.9 L531.1,315.4 Z M563.1,315.4 L563.1,312.9 L559.6,307.9 L555.6,307.9 L554.1,315.4 Z" fill="#444"/>
<rect x="523.8" y="311.4" width="1.6" height="3" fill="#ddd"/>
<rect x="526.8" y="311.4" width="1.6" height="3" fill="#ddd"/>
<rect x="556.8" y="311.4" width="1.6" height="3" fill="#ddd"/>
<rect x="559.8" y="311.4" width="1.6" height="3" fill="#ddd"/>
<rect x="531.6" y="312.9" width="22" height="2.5" fill="#bbb"/>
<line x1="521.60" y1="315.90" x2="563.60" y2="315.90" stroke="#111" stroke-width="1.6"/>
<clipPath id="d2"><path d="M552,267.2 L567.3,266.5 L567.3,282.3 L563,282.8 Q561,273 552,267.2 Z"/></clipPath>
<path d="M552,267.2 L567.3,266.5 L567.3,282.3 L563,282.8 Q561,273 552,267.2 Z" fill="#d2d2d2" stroke="#1a1a1a" stroke-width="1.1"/>
<g clip-path="url(#d2)" stroke="#8a8a8a" stroke-width="0.6"><line x1="535.7" y1="266.5" x2="552.0" y2="282.8"/><line x1="535.7" y1="282.8" x2="552.0" y2="266.5"/><line x1="538.3" y1="266.5" x2="554.6" y2="282.8"/><line x1="538.3" y1="282.8" x2="554.6" y2="266.5"/><line x1="540.9" y1="266.5" x2="557.2" y2="282.8"/><line x1="540.9" y1="282.8" x2="557.2" y2="266.5"/><line x1="543.5" y1="266.5" x2="559.8" y2="282.8"/><line x1="543.5" y1="282.8" x2="559.8" y2="266.5"/><line x1="546.1" y1="266.5" x2="562.4" y2="282.8"/><line x1="546.1" y1="282.8" x2="562.4" y2="266.5"/><line x1="548.7" y1="266.5" x2="565.0" y2="282.8"/><line x1="548.7" y1="282.8" x2="565.0" y2="266.5"/><line x1="551.3" y1="266.5" x2="567.6" y2="282.8"/><line x1="551.3" y1="282.8" x2="567.6" y2="266.5"/><line x1="553.9" y1="266.5" x2="570.2" y2="282.8"/><line x1="553.9" y1="282.8" x2="570.2" y2="266.5"/><line x1="556.5" y1="266.5" x2="572.8" y2="282.8"/><line x1="556.5" y1="282.8" x2="572.8" y2="266.5"/><line x1="559.1" y1="266.5" x2="575.4" y2="282.8"/><line x1="559.1" y1="282.8" x2="575.4" y2="266.5"/><line x1="561.7" y1="266.5" x2="578.0" y2="282.8"/><line x1="561.7" y1="282.8" x2="578.0" y2="266.5"/><line x1="564.3" y1="266.5" x2="580.6" y2="282.8"/><line x1="564.3" y1="282.8" x2="580.6" y2="266.5"/><line x1="566.9" y1="266.5" x2="583.2" y2="282.8"/><line x1="566.9" y1="282.8" x2="583.2" y2="266.5"/></g>
<rect x="567.3" y="262.6" width="3.3" height="19.7" fill="#111"/>
<rect x="570.6" y="267.0" width="5.9" height="10.7" fill="#fff" stroke="#1a1a1a" stroke-width="1"/>
<line x1="573.55" y1="267.00" x2="573.55" y2="277.70" stroke="#555" stroke-width="0.7"/>
<line x1="570.60" y1="272.35" x2="576.50" y2="272.35" stroke="#555" stroke-width="0.7"/>
<ellipse cx="542.6" cy="288.6" rx="25.3" ry="21.4" fill="#ececec" stroke="none"/>
<g clip-path="url(#c1)" stroke="#c4c4c4" stroke-width="0.6"><line x1="476.6" y1="264.6" x2="524.6" y2="312.6"/><line x1="524.6" y1="264.6" x2="476.6" y2="312.6"/><line x1="480.8" y1="264.6" x2="528.8" y2="312.6"/><line x1="528.8" y1="264.6" x2="480.8" y2="312.6"/><line x1="485.0" y1="264.6" x2="533.0" y2="312.6"/><line x1="533.0" y1="264.6" x2="485.0" y2="312.6"/><line x1="489.2" y1="264.6" x2="537.2" y2="312.6"/><line x1="537.2" y1="264.6" x2="489.2" y2="312.6"/><line x1="493.4" y1="264.6" x2="541.4" y2="312.6"/><line x1="541.4" y1="264.6" x2="493.4" y2="312.6"/><line x1="497.6" y1="264.6" x2="545.6" y2="312.6"/><line x1="545.6" y1="264.6" x2="497.6" y2="312.6"/><line x1="501.8" y1="264.6" x2="549.8" y2="312.6"/><line x1="549.8" y1="264.6" x2="501.8" y2="312.6"/><line x1="506.0" y1="264.6" x2="554.0" y2="312.6"/><line x1="554.0" y1="264.6" x2="506.0" y2="312.6"/><line x1="510.2" y1="264.6" x2="558.2" y2="312.6"/><line x1="558.2" y1="264.6" x2="510.2" y2="312.6"/><line x1="514.4" y1="264.6" x2="562.4" y2="312.6"/><line x1="562.4" y1="264.6" x2="514.4" y2="312.6"/><line x1="518.6" y1="264.6" x2="566.6" y2="312.6"/><line x1="566.6" y1="264.6" x2="518.6" y2="312.6"/><line x1="522.8" y1="264.6" x2="570.8" y2="312.6"/><line x1="570.8" y1="264.6" x2="522.8" y2="312.6"/><line x1="527.0" y1="264.6" x2="575.0" y2="312.6"/><line x1="575.0" y1="264.6" x2="527.0" y2="312.6"/><line x1="531.2" y1="264.6" x2="579.2" y2="312.6"/><line x1="579.2" y1="264.6" x2="531.2" y2="312.6"/><line x1="535.4" y1="264.6" x2="583.4" y2="312.6"/><line x1="583.4" y1="264.6" x2="535.4" y2="312.6"/><line x1="539.6" y1="264.6" x2="587.6" y2="312.6"/><line x1="587.6" y1="264.6" x2="539.6" y2="312.6"/><line x1="543.8" y1="264.6" x2="591.8" y2="312.6"/><line x1="591.8" y1="264.6" x2="543.8" y2="312.6"/><line x1="548.0" y1="264.6" x2="596.0" y2="312.6"/><line x1="596.0" y1="264.6" x2="548.0" y2="312.6"/><line x1="552.2" y1="264.6" x2="600.2" y2="312.6"/><line x1="600.2" y1="264.6" x2="552.2" y2="312.6"/><line x1="556.4" y1="264.6" x2="604.4" y2="312.6"/><line x1="604.4" y1="264.6" x2="556.4" y2="312.6"/><line x1="560.6" y1="264.6" x2="608.6" y2="312.6"/><line x1="608.6" y1="264.6" x2="560.6" y2="312.6"/></g>
<ellipse cx="542.6" cy="288.6" rx="25.3" ry="21.4" fill="none" stroke="#111" stroke-width="2.2"/>
<line x1="542.60" y1="263.20" x2="542.60" y2="313.00" stroke="#5a5a5a" stroke-width="0.9"/>
<line x1="513.30" y1="288.60" x2="571.90" y2="288.60" stroke="#5a5a5a" stroke-width="0.9"/>
<text transform="translate(530.90,326.90) scale(1.200,1)" x="-0.89" y="0" font-size="10.89" font-family="'Liberation Sans',sans-serif" font-weight="normal" letter-spacing="0.375" fill="#111" stroke="#111" stroke-width="0.35" xml:space="preserve">B–3</text>
<clipPath id="c2"><ellipse cx="487.6" cy="353.5" rx="23.8" ry="20.2"/></clipPath>
<circle cx="466.9" cy="337.7" r="1.9" fill="#333" stroke="none"/>
<circle cx="466.9" cy="369.3" r="1.9" fill="#333" stroke="none"/>
<circle cx="508.4" cy="337.7" r="1.9" fill="#333" stroke="none"/>
<circle cx="508.4" cy="369.3" r="1.9" fill="#333" stroke="none"/>
<path d="M466.6,379.9 L466.6,376.9 L470.6,371.4 L475.1,371.4 L476.6,376.9 L498.6,376.9 L500.1,371.4 L504.6,371.4 L508.6,376.9 L508.6,379.9 Z" fill="#fff" stroke="#111" stroke-width="1.2" stroke-linejoin="round" />
<path d="M467.1,379.4 L467.1,376.9 L470.6,371.9 L474.6,371.9 L476.1,379.4 Z M508.1,379.4 L508.1,376.9 L504.6,371.9 L500.6,371.9 L499.1,379.4 Z" fill="#444"/>
<rect x="468.8" y="375.4" width="1.6" height="3" fill="#ddd"/>
<rect x="471.8" y="375.4" width="1.6" height="3" fill="#ddd"/>
<rect x="501.8" y="375.4" width="1.6" height="3" fill="#ddd"/>
<rect x="504.8" y="375.4" width="1.6" height="3" fill="#ddd"/>
<rect x="476.6" y="376.9" width="22" height="2.5" fill="#bbb"/>
<line x1="466.60" y1="379.90" x2="508.60" y2="379.90" stroke="#111" stroke-width="1.6"/>
<clipPath id="d3"><path d="M461.3,333 L477.5,333 Q467,340 463.2,351 L461.3,351 Z"/></clipPath>
<path d="M461.3,333 L477.5,333 Q467,340 463.2,351 L461.3,351 Z" fill="#d2d2d2" stroke="#1a1a1a" stroke-width="1.1"/>
<g clip-path="url(#d3)" stroke="#8a8a8a" stroke-width="0.6"><line x1="443.3" y1="333.0" x2="461.3" y2="351.0"/><line x1="443.3" y1="351.0" x2="461.3" y2="333.0"/><line x1="445.9" y1="333.0" x2="463.9" y2="351.0"/><line x1="445.9" y1="351.0" x2="463.9" y2="333.0"/><line x1="448.5" y1="333.0" x2="466.5" y2="351.0"/><line x1="448.5" y1="351.0" x2="466.5" y2="333.0"/><line x1="451.1" y1="333.0" x2="469.1" y2="351.0"/><line x1="451.1" y1="351.0" x2="469.1" y2="333.0"/><line x1="453.7" y1="333.0" x2="471.7" y2="351.0"/><line x1="453.7" y1="351.0" x2="471.7" y2="333.0"/><line x1="456.3" y1="333.0" x2="474.3" y2="351.0"/><line x1="456.3" y1="351.0" x2="474.3" y2="333.0"/><line x1="458.9" y1="333.0" x2="476.9" y2="351.0"/><line x1="458.9" y1="351.0" x2="476.9" y2="333.0"/><line x1="461.5" y1="333.0" x2="479.5" y2="351.0"/><line x1="461.5" y1="351.0" x2="479.5" y2="333.0"/><line x1="464.1" y1="333.0" x2="482.1" y2="351.0"/><line x1="464.1" y1="351.0" x2="482.1" y2="333.0"/><line x1="466.7" y1="333.0" x2="484.7" y2="351.0"/><line x1="466.7" y1="351.0" x2="484.7" y2="333.0"/><line x1="469.3" y1="333.0" x2="487.3" y2="351.0"/><line x1="469.3" y1="351.0" x2="487.3" y2="333.0"/><line x1="471.9" y1="333.0" x2="489.9" y2="351.0"/><line x1="471.9" y1="351.0" x2="489.9" y2="333.0"/><line x1="474.5" y1="333.0" x2="492.5" y2="351.0"/><line x1="474.5" y1="351.0" x2="492.5" y2="333.0"/><line x1="477.1" y1="333.0" x2="495.1" y2="351.0"/><line x1="477.1" y1="351.0" x2="495.1" y2="333.0"/></g>
<rect x="455.6" y="330.7" width="23.5" height="2.4" fill="#111"/>
<rect x="460.8" y="325.4" width="12.6" height="5.3" fill="#fff" stroke="#1a1a1a" stroke-width="1"/>
<line x1="467.10" y1="325.40" x2="467.10" y2="330.70" stroke="#555" stroke-width="0.7"/>
<line x1="460.80" y1="328.05" x2="473.40" y2="328.05" stroke="#555" stroke-width="0.7"/>
<ellipse cx="487.6" cy="353.5" rx="25" ry="21.4" fill="#ececec" stroke="none"/>
<g clip-path="url(#c2)" stroke="#c4c4c4" stroke-width="0.6"><line x1="421.6" y1="329.5" x2="469.6" y2="377.5"/><line x1="469.6" y1="329.5" x2="421.6" y2="377.5"/><line x1="425.8" y1="329.5" x2="473.8" y2="377.5"/><line x1="473.8" y1="329.5" x2="425.8" y2="377.5"/><line x1="430.0" y1="329.5" x2="478.0" y2="377.5"/><line x1="478.0" y1="329.5" x2="430.0" y2="377.5"/><line x1="434.2" y1="329.5" x2="482.2" y2="377.5"/><line x1="482.2" y1="329.5" x2="434.2" y2="377.5"/><line x1="438.4" y1="329.5" x2="486.4" y2="377.5"/><line x1="486.4" y1="329.5" x2="438.4" y2="377.5"/><line x1="442.6" y1="329.5" x2="490.6" y2="377.5"/><line x1="490.6" y1="329.5" x2="442.6" y2="377.5"/><line x1="446.8" y1="329.5" x2="494.8" y2="377.5"/><line x1="494.8" y1="329.5" x2="446.8" y2="377.5"/><line x1="451.0" y1="329.5" x2="499.0" y2="377.5"/><line x1="499.0" y1="329.5" x2="451.0" y2="377.5"/><line x1="455.2" y1="329.5" x2="503.2" y2="377.5"/><line x1="503.2" y1="329.5" x2="455.2" y2="377.5"/><line x1="459.4" y1="329.5" x2="507.4" y2="377.5"/><line x1="507.4" y1="329.5" x2="459.4" y2="377.5"/><line x1="463.6" y1="329.5" x2="511.6" y2="377.5"/><line x1="511.6" y1="329.5" x2="463.6" y2="377.5"/><line x1="467.8" y1="329.5" x2="515.8" y2="377.5"/><line x1="515.8" y1="329.5" x2="467.8" y2="377.5"/><line x1="472.0" y1="329.5" x2="520.0" y2="377.5"/><line x1="520.0" y1="329.5" x2="472.0" y2="377.5"/><line x1="476.2" y1="329.5" x2="524.2" y2="377.5"/><line x1="524.2" y1="329.5" x2="476.2" y2="377.5"/><line x1="480.4" y1="329.5" x2="528.4" y2="377.5"/><line x1="528.4" y1="329.5" x2="480.4" y2="377.5"/><line x1="484.6" y1="329.5" x2="532.6" y2="377.5"/><line x1="532.6" y1="329.5" x2="484.6" y2="377.5"/><line x1="488.8" y1="329.5" x2="536.8" y2="377.5"/><line x1="536.8" y1="329.5" x2="488.8" y2="377.5"/><line x1="493.0" y1="329.5" x2="541.0" y2="377.5"/><line x1="541.0" y1="329.5" x2="493.0" y2="377.5"/><line x1="497.2" y1="329.5" x2="545.2" y2="377.5"/><line x1="545.2" y1="329.5" x2="497.2" y2="377.5"/><line x1="501.4" y1="329.5" x2="549.4" y2="377.5"/><line x1="549.4" y1="329.5" x2="501.4" y2="377.5"/><line x1="505.6" y1="329.5" x2="553.6" y2="377.5"/><line x1="553.6" y1="329.5" x2="505.6" y2="377.5"/></g>
<ellipse cx="487.6" cy="353.5" rx="25" ry="21.4" fill="none" stroke="#111" stroke-width="2.2"/>
<line x1="487.60" y1="328.10" x2="487.60" y2="377.90" stroke="#5a5a5a" stroke-width="0.9"/>
<line x1="458.60" y1="353.50" x2="516.60" y2="353.50" stroke="#5a5a5a" stroke-width="0.9"/>
<text transform="translate(476.20,393.20) scale(1.040,1)" x="-1.03" y="0" font-size="12.61" font-family="'Liberation Sans',sans-serif" font-weight="normal" letter-spacing="0.433" fill="#111" stroke="#111" stroke-width="0.35" xml:space="preserve">B–2</text>
<clipPath id="c3"><ellipse cx="600.6" cy="353.7" rx="24.400000000000002" ry="20.0"/></clipPath>
<circle cx="579.4" cy="338.0" r="1.9" fill="#333" stroke="none"/>
<circle cx="579.4" cy="369.4" r="1.9" fill="#333" stroke="none"/>
<circle cx="621.8" cy="338.0" r="1.9" fill="#333" stroke="none"/>
<circle cx="621.8" cy="369.4" r="1.9" fill="#333" stroke="none"/>
<path d="M579.6,379.9 L579.6,376.9 L583.6,371.4 L588.1,371.4 L589.6,376.9 L611.6,376.9 L613.1,371.4 L617.6,371.4 L621.6,376.9 L621.6,379.9 Z" fill="#fff" stroke="#111" stroke-width="1.2" stroke-linejoin="round" />
<path d="M580.1,379.4 L580.1,376.9 L583.6,371.9 L587.6,371.9 L589.1,379.4 Z M621.1,379.4 L621.1,376.9 L617.6,371.9 L613.6,371.9 L612.1,379.4 Z" fill="#444"/>
<rect x="581.8" y="375.4" width="1.6" height="3" fill="#ddd"/>
<rect x="584.8" y="375.4" width="1.6" height="3" fill="#ddd"/>
<rect x="614.8" y="375.4" width="1.6" height="3" fill="#ddd"/>
<rect x="617.8" y="375.4" width="1.6" height="3" fill="#ddd"/>
<rect x="589.6" y="376.9" width="22" height="2.5" fill="#bbb"/>
<line x1="579.60" y1="379.90" x2="621.60" y2="379.90" stroke="#111" stroke-width="1.6"/>
<clipPath id="d4"><path d="M575.3,361 Q579,372 590,377.5 L575.3,378.5 Z"/></clipPath>
<path d="M575.3,361 Q579,372 590,377.5 L575.3,378.5 Z" fill="#d2d2d2" stroke="#1a1a1a" stroke-width="1.1"/>
<g clip-path="url(#d4)" stroke="#8a8a8a" stroke-width="0.6"><line x1="557.8" y1="361.0" x2="575.3" y2="378.5"/><line x1="557.8" y1="378.5" x2="575.3" y2="361.0"/><line x1="560.4" y1="361.0" x2="577.9" y2="378.5"/><line x1="560.4" y1="378.5" x2="577.9" y2="361.0"/><line x1="563.0" y1="361.0" x2="580.5" y2="378.5"/><line x1="563.0" y1="378.5" x2="580.5" y2="361.0"/><line x1="565.6" y1="361.0" x2="583.1" y2="378.5"/><line x1="565.6" y1="378.5" x2="583.1" y2="361.0"/><line x1="568.2" y1="361.0" x2="585.7" y2="378.5"/><line x1="568.2" y1="378.5" x2="585.7" y2="361.0"/><line x1="570.8" y1="361.0" x2="588.3" y2="378.5"/><line x1="570.8" y1="378.5" x2="588.3" y2="361.0"/><line x1="573.4" y1="361.0" x2="590.9" y2="378.5"/><line x1="573.4" y1="378.5" x2="590.9" y2="361.0"/><line x1="576.0" y1="361.0" x2="593.5" y2="378.5"/><line x1="576.0" y1="378.5" x2="593.5" y2="361.0"/><line x1="578.6" y1="361.0" x2="596.1" y2="378.5"/><line x1="578.6" y1="378.5" x2="596.1" y2="361.0"/><line x1="581.2" y1="361.0" x2="598.7" y2="378.5"/><line x1="581.2" y1="378.5" x2="598.7" y2="361.0"/><line x1="583.8" y1="361.0" x2="601.3" y2="378.5"/><line x1="583.8" y1="378.5" x2="601.3" y2="361.0"/><line x1="586.4" y1="361.0" x2="603.9" y2="378.5"/><line x1="586.4" y1="378.5" x2="603.9" y2="361.0"/><line x1="589.0" y1="361.0" x2="606.5" y2="378.5"/><line x1="589.0" y1="378.5" x2="606.5" y2="361.0"/></g>
<rect x="572.5" y="360.6" width="2.8" height="19.3" fill="#111"/>
<rect x="566.0" y="365.3" width="6.5" height="9.6" fill="#fff" stroke="#1a1a1a" stroke-width="1"/>
<line x1="569.25" y1="365.30" x2="569.25" y2="374.90" stroke="#555" stroke-width="0.7"/>
<line x1="566.00" y1="370.10" x2="572.50" y2="370.10" stroke="#555" stroke-width="0.7"/>
<ellipse cx="600.6" cy="353.7" rx="25.6" ry="21.2" fill="#ececec" stroke="none"/>
<g clip-path="url(#c3)" stroke="#c4c4c4" stroke-width="0.6"><line x1="534.6" y1="329.7" x2="582.6" y2="377.7"/><line x1="582.6" y1="329.7" x2="534.6" y2="377.7"/><line x1="538.8" y1="329.7" x2="586.8" y2="377.7"/><line x1="586.8" y1="329.7" x2="538.8" y2="377.7"/><line x1="543.0" y1="329.7" x2="591.0" y2="377.7"/><line x1="591.0" y1="329.7" x2="543.0" y2="377.7"/><line x1="547.2" y1="329.7" x2="595.2" y2="377.7"/><line x1="595.2" y1="329.7" x2="547.2" y2="377.7"/><line x1="551.4" y1="329.7" x2="599.4" y2="377.7"/><line x1="599.4" y1="329.7" x2="551.4" y2="377.7"/><line x1="555.6" y1="329.7" x2="603.6" y2="377.7"/><line x1="603.6" y1="329.7" x2="555.6" y2="377.7"/><line x1="559.8" y1="329.7" x2="607.8" y2="377.7"/><line x1="607.8" y1="329.7" x2="559.8" y2="377.7"/><line x1="564.0" y1="329.7" x2="612.0" y2="377.7"/><line x1="612.0" y1="329.7" x2="564.0" y2="377.7"/><line x1="568.2" y1="329.7" x2="616.2" y2="377.7"/><line x1="616.2" y1="329.7" x2="568.2" y2="377.7"/><line x1="572.4" y1="329.7" x2="620.4" y2="377.7"/><line x1="620.4" y1="329.7" x2="572.4" y2="377.7"/><line x1="576.6" y1="329.7" x2="624.6" y2="377.7"/><line x1="624.6" y1="329.7" x2="576.6" y2="377.7"/><line x1="580.8" y1="329.7" x2="628.8" y2="377.7"/><line x1="628.8" y1="329.7" x2="580.8" y2="377.7"/><line x1="585.0" y1="329.7" x2="633.0" y2="377.7"/><line x1="633.0" y1="329.7" x2="585.0" y2="377.7"/><line x1="589.2" y1="329.7" x2="637.2" y2="377.7"/><line x1="637.2" y1="329.7" x2="589.2" y2="377.7"/><line x1="593.4" y1="329.7" x2="641.4" y2="377.7"/><line x1="641.4" y1="329.7" x2="593.4" y2="377.7"/><line x1="597.6" y1="329.7" x2="645.6" y2="377.7"/><line x1="645.6" y1="329.7" x2="597.6" y2="377.7"/><line x1="601.8" y1="329.7" x2="649.8" y2="377.7"/><line x1="649.8" y1="329.7" x2="601.8" y2="377.7"/><line x1="606.0" y1="329.7" x2="654.0" y2="377.7"/><line x1="654.0" y1="329.7" x2="606.0" y2="377.7"/><line x1="610.2" y1="329.7" x2="658.2" y2="377.7"/><line x1="658.2" y1="329.7" x2="610.2" y2="377.7"/><line x1="614.4" y1="329.7" x2="662.4" y2="377.7"/><line x1="662.4" y1="329.7" x2="614.4" y2="377.7"/><line x1="618.6" y1="329.7" x2="666.6" y2="377.7"/><line x1="666.6" y1="329.7" x2="618.6" y2="377.7"/></g>
<ellipse cx="600.6" cy="353.7" rx="25.6" ry="21.2" fill="none" stroke="#111" stroke-width="2.2"/>
<line x1="600.60" y1="328.50" x2="600.60" y2="377.90" stroke="#5a5a5a" stroke-width="0.9"/>
<line x1="571.00" y1="353.70" x2="630.20" y2="353.70" stroke="#5a5a5a" stroke-width="0.9"/>
<text transform="translate(588.40,394.40) scale(0.990,1)" x="-0.98" y="0" font-size="11.89" font-family="'Liberation Sans',sans-serif" font-weight="normal" letter-spacing="0.455" fill="#111" stroke="#111" stroke-width="0.35" xml:space="preserve">B–1</text>
<path d="M535.5,342.7 A13.2,12.6 0 1 0 557.6,350.5" fill="none" stroke="#111" stroke-width="1.5" stroke-linejoin="round" />
<circle cx="535.5" cy="342.7" r="1.2" fill="#111"/>
<path d="M558.20,348.00 L558.66,352.75 L555.56,351.98 Z" fill="#111"/>
<text transform="translate(377.30,420.3) scale(0.94,1)" x="0" y="0" font-size="16.8" font-family="'Liberation Sans',sans-serif" font-weight="normal" text-anchor="middle" fill="#111" stroke="#111" stroke-width="0.25">H</text>
<text transform="translate(387.90,420.3) scale(1.0,1)" x="0" y="0" font-size="16.8" font-family="'Liberation Sans',sans-serif" font-weight="normal" text-anchor="middle" fill="#111" stroke="#111" stroke-width="0.25">T</text>
<text transform="translate(398.50,420.3) scale(1.0,1)" x="0" y="0" font-size="16.8" font-family="'Liberation Sans',sans-serif" font-weight="normal" text-anchor="middle" fill="#111" stroke="#111" stroke-width="0.25">B</text>
<text transform="translate(409.10,420.3) scale(1.0,1)" x="0" y="0" font-size="16.8" font-family="'Liberation Sans',sans-serif" font-weight="normal" text-anchor="middle" fill="#111" stroke="#111" stroke-width="0.25">1</text>
<text transform="translate(419.70,420.3) scale(1.06,1)" x="0" y="0" font-size="16.8" font-family="'Liberation Sans',sans-serif" font-weight="normal" text-anchor="middle" fill="#111" stroke="#111" stroke-width="0.25">0</text>
<text transform="translate(430.30,420.3) scale(1.06,1)" x="0" y="0" font-size="16.8" font-family="'Liberation Sans',sans-serif" font-weight="normal" text-anchor="middle" fill="#111" stroke="#111" stroke-width="0.25">0</text>
<text transform="translate(440.90,420.3) scale(0.92,1)" x="0" y="0" font-size="16.8" font-family="'Liberation Sans',sans-serif" font-weight="normal" text-anchor="middle" fill="#111" stroke="#111" stroke-width="0.25">–</text>
<text transform="translate(451.50,420.3) scale(1.0,1)" x="0" y="0" font-size="16.8" font-family="'Liberation Sans',sans-serif" font-weight="normal" text-anchor="middle" fill="#111" stroke="#111" stroke-width="0.25">2</text>
<text transform="translate(462.10,420.3) scale(1.06,1)" x="0" y="0" font-size="16.8" font-family="'Liberation Sans',sans-serif" font-weight="normal" text-anchor="middle" fill="#111" stroke="#111" stroke-width="0.25">0</text>
<text transform="translate(472.70,420.3) scale(1.0,1)" x="0" y="0" font-size="16.8" font-family="'Liberation Sans',sans-serif" font-weight="normal" text-anchor="middle" fill="#111" stroke="#111" stroke-width="0.25">3</text>
<text transform="translate(377.30,441.0) scale(1.0,1)" x="0" y="0" font-size="16.8" font-family="'Liberation Sans',sans-serif" font-weight="normal" text-anchor="middle" fill="#111" stroke="#111" stroke-width="0.25">3</text>
<text transform="translate(387.90,441.0) scale(0.92,1)" x="0" y="0" font-size="16.8" font-family="'Liberation Sans',sans-serif" font-weight="normal" text-anchor="middle" fill="#111" stroke="#111" stroke-width="0.25">–</text>
<text transform="translate(398.50,441.0) scale(0.95,1)" x="0" y="0" font-size="16.8" font-family="'Liberation Sans',sans-serif" font-weight="normal" text-anchor="middle" fill="#111" stroke="#111" stroke-width="0.25">s</text>
<text transform="translate(409.10,441.0) scale(1.6,1)" x="0" y="0" font-size="16.8" font-family="'Liberation Sans',sans-serif" font-weight="normal" text-anchor="middle" fill="#111" stroke="#111" stroke-width="0.25">t</text>
<text transform="translate(419.70,441.0) scale(0.92,1)" x="0" y="0" font-size="16.8" font-family="'Liberation Sans',sans-serif" font-weight="normal" text-anchor="middle" fill="#111" stroke="#111" stroke-width="0.25">a</text>
<text transform="translate(430.30,441.0) scale(1.0,1)" x="0" y="0" font-size="16.8" font-family="'Liberation Sans',sans-serif" font-weight="normal" text-anchor="middle" fill="#111" stroke="#111" stroke-width="0.25">g</text>
<text transform="translate(440.90,441.0) scale(1.0,1)" x="0" y="0" font-size="16.8" font-family="'Liberation Sans',sans-serif" font-weight="normal" text-anchor="middle" fill="#111" stroke="#111" stroke-width="0.25">e</text>
</svg>
</body></html>
